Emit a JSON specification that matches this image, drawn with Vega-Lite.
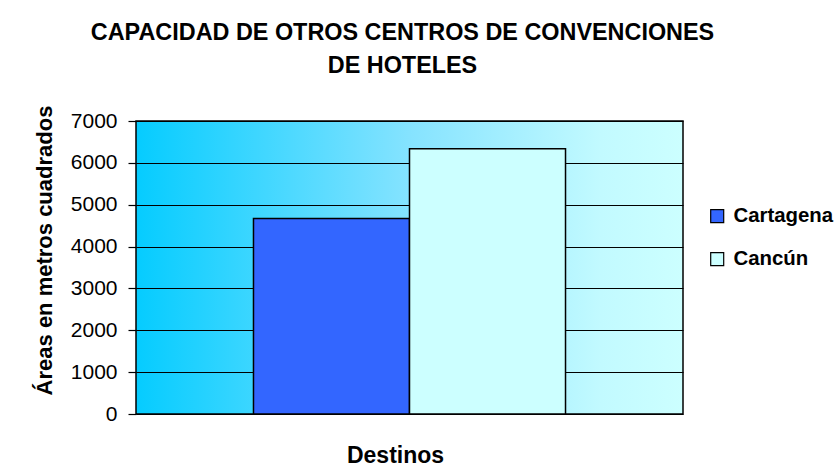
{
  "$schema": "https://vega.github.io/schema/vega-lite/v6.json",
  "width": 547,
  "height": 293,
  "autosize": "none",
  "padding": {"left": 136, "top": 121, "right": 151, "bottom": 54},
  "background": "white",
  "title": {
    "text": ["CAPACIDAD DE OTROS CENTROS DE CONVENCIONES", "DE HOTELES"],
    "font": "Liberation Sans",
    "fontSize": 23.4,
    "fontWeight": "bold",
    "color": "black",
    "lineHeight": 33,
    "anchor": "middle",
    "dx": -7,
    "offset": 27
  },
  "data": {
    "values": [
      {"destino": "Cartagena", "area": 4670},
      {"destino": "Cancún", "area": 6340}
    ]
  },
  "mark": {"type": "bar", "stroke": "black", "strokeWidth": 1.5},
  "encoding": {
    "x": {
      "field": "destino",
      "type": "nominal",
      "sort": ["Cartagena", "Cancún"],
      "scale": {"paddingInner": 0, "paddingOuter": 0.753},
      "axis": {
        "title": "Destinos",
        "labels": false,
        "ticks": false,
        "domain": false,
        "titleX": 259,
        "titlePadding": 30
      }
    },
    "y": {
      "field": "area",
      "type": "quantitative",
      "scale": {"domain": [0, 7000], "nice": false},
      "axis": {
        "title": "Áreas en metros cuadrados",
        "values": [0, 1000, 2000, 3000, 4000, 5000, 6000, 7000],
        "format": "d",
        "grid": true,
        "gridColor": "black",
        "gridOpacity": 1,
        "gridWidth": 1.2,
        "domain": false,
        "tickColor": "black",
        "tickSize": 8,
        "tickWidth": 1.2,
        "labelPadding": 11,
        "titleFontSize": 22,
        "titleY": 129,
        "titlePadding": 14
      }
    },
    "color": {
      "field": "destino",
      "type": "nominal",
      "sort": ["Cartagena", "Cancún"],
      "scale": {"domain": ["Cartagena", "Cancún"], "range": ["#3366FF", "#CCFFFF"]},
      "legend": {
        "title": null,
        "orient": "none",
        "legendX": 571,
        "legendY": 85,
        "symbolType": "square",
        "symbolSize": 169,
        "symbolStrokeColor": "black",
        "symbolStrokeWidth": 1.2,
        "symbolOpacity": 1,
        "labelFont": "Liberation Sans",
        "labelFontSize": 20.4,
        "labelFontWeight": "bold",
        "labelColor": "black",
        "labelOffset": 6,
        "rowPadding": 22
      }
    }
  },
  "config": {
    "view": {
      "stroke": "black",
      "strokeWidth": 1.5,
      "fill": {
        "gradient": "linear",
        "x1": 0, "y1": 0, "x2": 1, "y2": 0,
        "stops": [
          {"offset": 0, "color": "#05CCFF"},
          {"offset": 0.5, "color": "#85E3FF"},
          {"offset": 0.85, "color": "#C2FAFF"},
          {"offset": 1, "color": "#CCFFFF"}
        ]
      }
    },
    "axis": {
      "labelFont": "Liberation Sans",
      "labelFontSize": 21,
      "labelColor": "black",
      "titleFont": "Liberation Sans",
      "titleFontSize": 23,
      "titleFontWeight": "bold",
      "titleColor": "black"
    }
  }
}
